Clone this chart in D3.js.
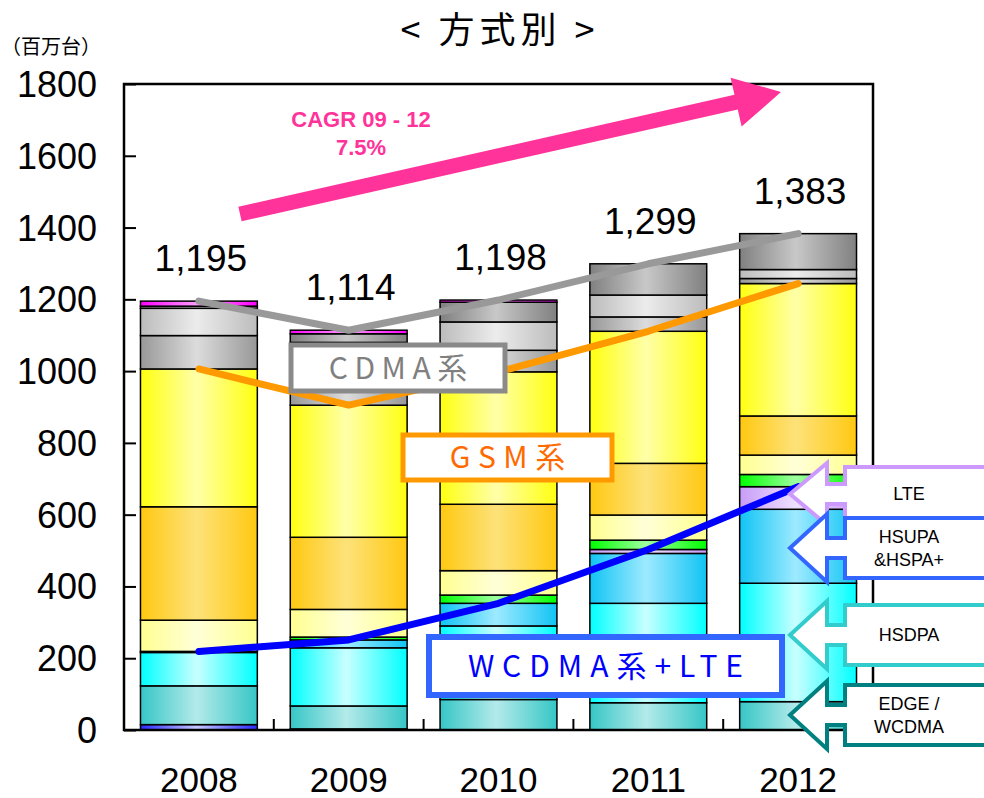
<!DOCTYPE html>
<html>
<head>
<meta charset="utf-8">
<script src="https://cdn.jsdelivr.net/npm/d3@7/dist/d3.min.js"></script>
<style>
  body { margin: 0; background: #fff; }
  svg { display: block; }
</style>
</head>
<body>
<div id="chart"></div>
<script>
// ---- data (百万台) ----
const years = ["2008", "2009", "2010", "2011", "2012"];
const wcdmaR99   = [15, 3, 0, 0, 0];
const edgeWcdma  = [108, 64, 85, 76, 79];
const hsdpa      = [93, 162, 205, 277, 330];
const hsupa      = [3, 22, 63, 139, 206];
const lte        = [0, 0, 0, 11, 63];
const tdscdma    = [0, 8, 23, 26, 34];
const gsmA       = [87, 77, 68, 70, 54];
const gsmB       = [316, 201, 185, 144, 109];
const gsmC       = [384, 368, 369, 368, 369];
const cdmaA      = [93, 105, 60, 40, 14];
const cdmaB      = [76, 70, 79, 61, 25];
const cdmaC      = [6, 24, 55, 87, 100];
const others     = [14, 10, 6, 0, 0];
const yTicks = [0, 200, 400, 600, 800, 1000, 1200, 1400, 1600, 1800];

const legendLabels = [["LTE"], ["HSUPA", "&HSPA+"], ["HSDPA"], ["EDGE /", "WCDMA"]];

// series -> gradient colours (edge, centre)
const series = [
    { key: "wcdmaR99", values: wcdmaR99, edge: "#2a2aff", mid: "#c8c8ff" },
    { key: "edgeWcdma", values: edgeWcdma, edge: "#36c6c6", mid: "#b4eaea" },
    { key: "hsdpa", values: hsdpa, edge: "#00ffff", mid: "#c8ffff" },
    { key: "hsupa", values: hsupa, edge: "#10c4f4", mid: "#9eeaff" },
    { key: "lte", values: lte, edge: "#c89cf8", mid: "#eee0ff" },
    { key: "tdscdma", values: tdscdma, edge: "#00ff00", mid: "#a0ffa0" },
    { key: "gsmA", values: gsmA, edge: "#ffff90", mid: "#ffffd8" },
    { key: "gsmB", values: gsmB, edge: "#ffc810", mid: "#fde27a" },
    { key: "gsmC", values: gsmC, edge: "#ffff10", mid: "#ffffa8" },
    { key: "cdmaA", values: cdmaA, edge: "#989898", mid: "#dcdcdc" },
    { key: "cdmaB", values: cdmaB, edge: "#bcbcbc", mid: "#ececec" },
    { key: "cdmaC", values: cdmaC, edge: "#808080", mid: "#c8c8c8" },
    { key: "others", values: others, edge: "#ff00ff", mid: "#ff9cff" }
];

const width = 984, height = 798;
const margin = { top: 84, right: 111, bottom: 68, left: 124 };

const svg = d3.select("#chart").append("svg")
    .attr("width", width)
    .attr("height", height)
    .attr("viewBox", [0, 0, width, height]);

const rows = years.map((y, i) => {
    const r = { year: y };
    series.forEach(s => r[s.key] = s.values[i]);
    return r;
});
const stacked = d3.stack().keys(series.map(s => s.key))(rows);

const xScale = d3.scaleBand()
    .domain(years)
    .range([margin.left, width - margin.right])
    .paddingInner(0.22)
    .paddingOuter(0.11);

const yScale = d3.scaleLinear()
    .domain([0, 1800])
    .range([height - margin.bottom, margin.top]);

// gradients
const defs = svg.append("defs");
series.forEach(s => {
    const g = defs.append("linearGradient")
        .attr("id", "grad-" + s.key)
        .attr("x1", 0).attr("x2", 1).attr("y1", 0).attr("y2", 0);
    g.append("stop").attr("offset", "0%").attr("stop-color", s.edge);
    g.append("stop").attr("offset", "48%").attr("stop-color", s.mid);
    g.append("stop").attr("offset", "100%").attr("stop-color", s.edge);
});

// bars
svg.append("g")
    .selectAll("g")
    .data(stacked)
    .join("g")
    .attr("fill", d => "url(#grad-" + d.key + ")")
    .selectAll("rect")
    .data(d => d.filter(p => p[1] - p[0] > 0))
    .join("rect")
    .attr("x", d => xScale(d.data.year))
    .attr("y", d => yScale(d[1]))
    .attr("width", xScale.bandwidth())
    .attr("height", d => yScale(d[0]) - yScale(d[1]))
    .attr("stroke", "#000")
    .attr("stroke-width", 1.5);

// frame + axes
const plotL = margin.left, plotR = width - margin.right;
const plotT = margin.top, plotB = height - margin.bottom;
svg.append("rect")
    .attr("x", plotL).attr("y", plotT)
    .attr("width", plotR - plotL).attr("height", plotB - plotT)
    .attr("fill", "none").attr("stroke", "#000").attr("stroke-width", 2.5);

const yAxis = svg.append("g")
    .attr("transform", `translate(${plotL},0)`)
    .call(d3.axisRight(yScale).tickValues(yTicks).tickSize(12).tickFormat(""));
yAxis.select(".domain").remove();
yAxis.selectAll("line").attr("stroke-width", 2);

svg.append("g")
    .selectAll("text")
    .data(yTicks)
    .join("text")
    .attr("x", 97)
    .attr("y", d => yScale(d))
    .attr("dy", "0.36em")
    .attr("text-anchor", "end")
    .attr("font-family", "'Liberation Sans', Arial, sans-serif")
    .attr("font-size", 36)
    .text(d => d);

// boundary ticks between categories
const step = xScale.step();
const gap = step - xScale.bandwidth();
svg.append("g")
    .selectAll("line")
    .data(years.slice(1))
    .join("line")
    .attr("x1", d => xScale(d) - gap / 2)
    .attr("x2", d => xScale(d) - gap / 2)
    .attr("y1", plotB)
    .attr("y2", plotB - 11)
    .attr("stroke", "#000")
    .attr("stroke-width", 2);

svg.append("g")
    .selectAll("text")
    .data(years)
    .join("text")
    .attr("x", d => xScale(d) + xScale.bandwidth() / 2)
    .attr("y", 792)
    .attr("text-anchor", "middle")
    .attr("font-family", "'Liberation Sans', Arial, sans-serif")
    .attr("font-size", 35)
    .text(d => d);

// trend lines
const sumTo = (n) => years.map((_, i) => d3.sum(series.slice(0, n), s => s.values[i]));
const wcdmaTop = sumTo(5);
const gsmTop = sumTo(9);
const totals = sumTo(series.length);

const line = d3.line()
    .x((d, i) => xScale(years[i]) + xScale.bandwidth() / 2)
    .y(d => yScale(d));

[[totals, "#999999"], [gsmTop, "#ff9900"], [wcdmaTop, "#0000ff"]].forEach(([vals, c]) => {
    svg.append("path")
        .attr("d", line(vals))
        .attr("fill", "none")
        .attr("stroke", c)
        .attr("stroke-width", 7)
        .attr("stroke-linecap", "round")
        .attr("stroke-linejoin", "round");
});

// totals
svg.append("g")
    .selectAll("text")
    .data(totals)
    .join("text")
    .attr("x", (d, i) => xScale(years[i]) + xScale.bandwidth() / 2 + 2)
    .attr("y", d => yScale(d) - 30)
    .attr("text-anchor", "middle")
    .attr("font-family", "'Liberation Sans', Arial, sans-serif")
    .attr("font-size", 37)
    .text(d => d3.format(",")(d));

// group label boxes
const jp = "'Noto Sans CJK JP', 'Noto Sans', sans-serif";
const boxes = [
    { text: "CDMA系", x: 291, y: 345, w: 214, h: 46, stroke: "#8a8a8a", fill: "#808080", sw: 5, fs: 30, ls: 6.5 },
    { text: "GSM系", x: 403, y: 435, w: 209, h: 45, stroke: "#ff9900", fill: "#ff6a00", sw: 5, fs: 30, ls: 7.5 },
    { text: "WCDMA系+LTE", x: 429, y: 637, w: 353, h: 58, stroke: "#3366ff", fill: "#0000ff", sw: 6, fs: 30, ls: 8 }
];
boxes.forEach(b => {
    svg.append("rect")
        .attr("x", b.x).attr("y", b.y)
        .attr("width", b.w).attr("height", b.h)
        .attr("fill", "#fff")
        .attr("stroke", b.stroke)
        .attr("stroke-width", b.sw);
    svg.append("text")
        .attr("x", b.x + b.w / 2 + b.ls / 2)
        .attr("y", b.y + b.h / 2)
        .attr("dy", "0.36em")
        .attr("text-anchor", "middle")
        .attr("font-family", jp)
        .attr("font-size", b.fs)
        .attr("letter-spacing", b.ls)
        .attr("fill", b.fill)
        .text(b.text);
});

// legend callout arrows (right side)
const legendStyle = [
    { color: "#cc99ff", cy: 494, bh: 27, hh: 31 },
    { color: "#3366ff", cy: 548, bh: 30, hh: 34 },
    { color: "#33cccc", cy: 635, bh: 30, hh: 34 },
    { color: "#008080", cy: 715, bh: 30, hh: 34 }
];
const tipX = 790, headX = 827, boxX = 845, rightX = 1010, shaft = 10;
legendStyle.forEach((a, i) => {
    const cy = a.cy;
    const p = d3.path();
    p.moveTo(tipX, cy);
    p.lineTo(headX, cy - a.hh);
    p.lineTo(headX, cy - shaft);
    p.lineTo(boxX, cy - shaft);
    p.lineTo(boxX, cy - a.bh);
    p.lineTo(rightX, cy - a.bh);
    p.lineTo(rightX, cy + a.bh);
    p.lineTo(boxX, cy + a.bh);
    p.lineTo(boxX, cy + shaft);
    p.lineTo(headX, cy + shaft);
    p.lineTo(headX, cy + a.hh);
    p.closePath();
    svg.append("path")
        .attr("d", p.toString())
        .attr("fill", "#fff")
        .attr("stroke", a.color)
        .attr("stroke-width", 4)
        .attr("stroke-linejoin", "miter");
    const lines = legendLabels[i];
    const lh = 23;
    lines.forEach((t, j) => {
        svg.append("text")
            .attr("x", 909)
            .attr("y", cy + (j - (lines.length - 1) / 2) * lh)
            .attr("dy", "0.36em")
            .attr("text-anchor", "middle")
            .attr("font-family", "'Liberation Sans', Arial, sans-serif")
            .attr("font-size", 18)
            .text(t);
    });
});

// CAGR arrow
const ax0 = 240, ay0 = 214, ax1 = 781, ay1 = 92;
const aLen = Math.hypot(ax1 - ax0, ay1 - ay0);
const aAng = Math.atan2(ay1 - ay0, ax1 - ax0) * 180 / Math.PI;
const headLen = 46, headHalf = 25, shaftHalf = 7.5;
svg.append("path")
    .attr("transform", `translate(${ax0},${ay0}) rotate(${aAng})`)
    .attr("d", d3.line()([
        [0, -shaftHalf], [aLen - headLen, -shaftHalf], [aLen - headLen, -headHalf],
        [aLen, 0], [aLen - headLen, headHalf], [aLen - headLen, shaftHalf], [0, shaftHalf]
    ]) + "Z")
    .attr("fill", "#ff3399");

svg.append("text")
    .attr("x", 361).attr("y", 127)
    .attr("text-anchor", "middle")
    .attr("font-family", "'Liberation Sans', Arial, sans-serif")
    .attr("font-weight", "bold")
    .attr("font-size", 22)
    .attr("fill", "#ff3399")
    .text("CAGR 09 - 12");
svg.append("text")
    .attr("x", 361).attr("y", 155)
    .attr("text-anchor", "middle")
    .attr("font-family", "'Liberation Sans', Arial, sans-serif")
    .attr("font-weight", "bold")
    .attr("font-size", 22)
    .attr("fill", "#ff3399")
    .text("7.5%");

// titles
svg.append("text")
    .attr("x", 500).attr("y", 43)
    .attr("text-anchor", "middle")
    .attr("font-family", jp)
    .attr("font-size", 36)
    .attr("letter-spacing", 5)
    .text("< 方式別 >");

svg.append("text")
    .attr("x", 1).attr("y", 54)
    .attr("font-family", jp)
    .attr("font-size", 20)
    .text("（百万台）");
</script>
</body>
</html>
